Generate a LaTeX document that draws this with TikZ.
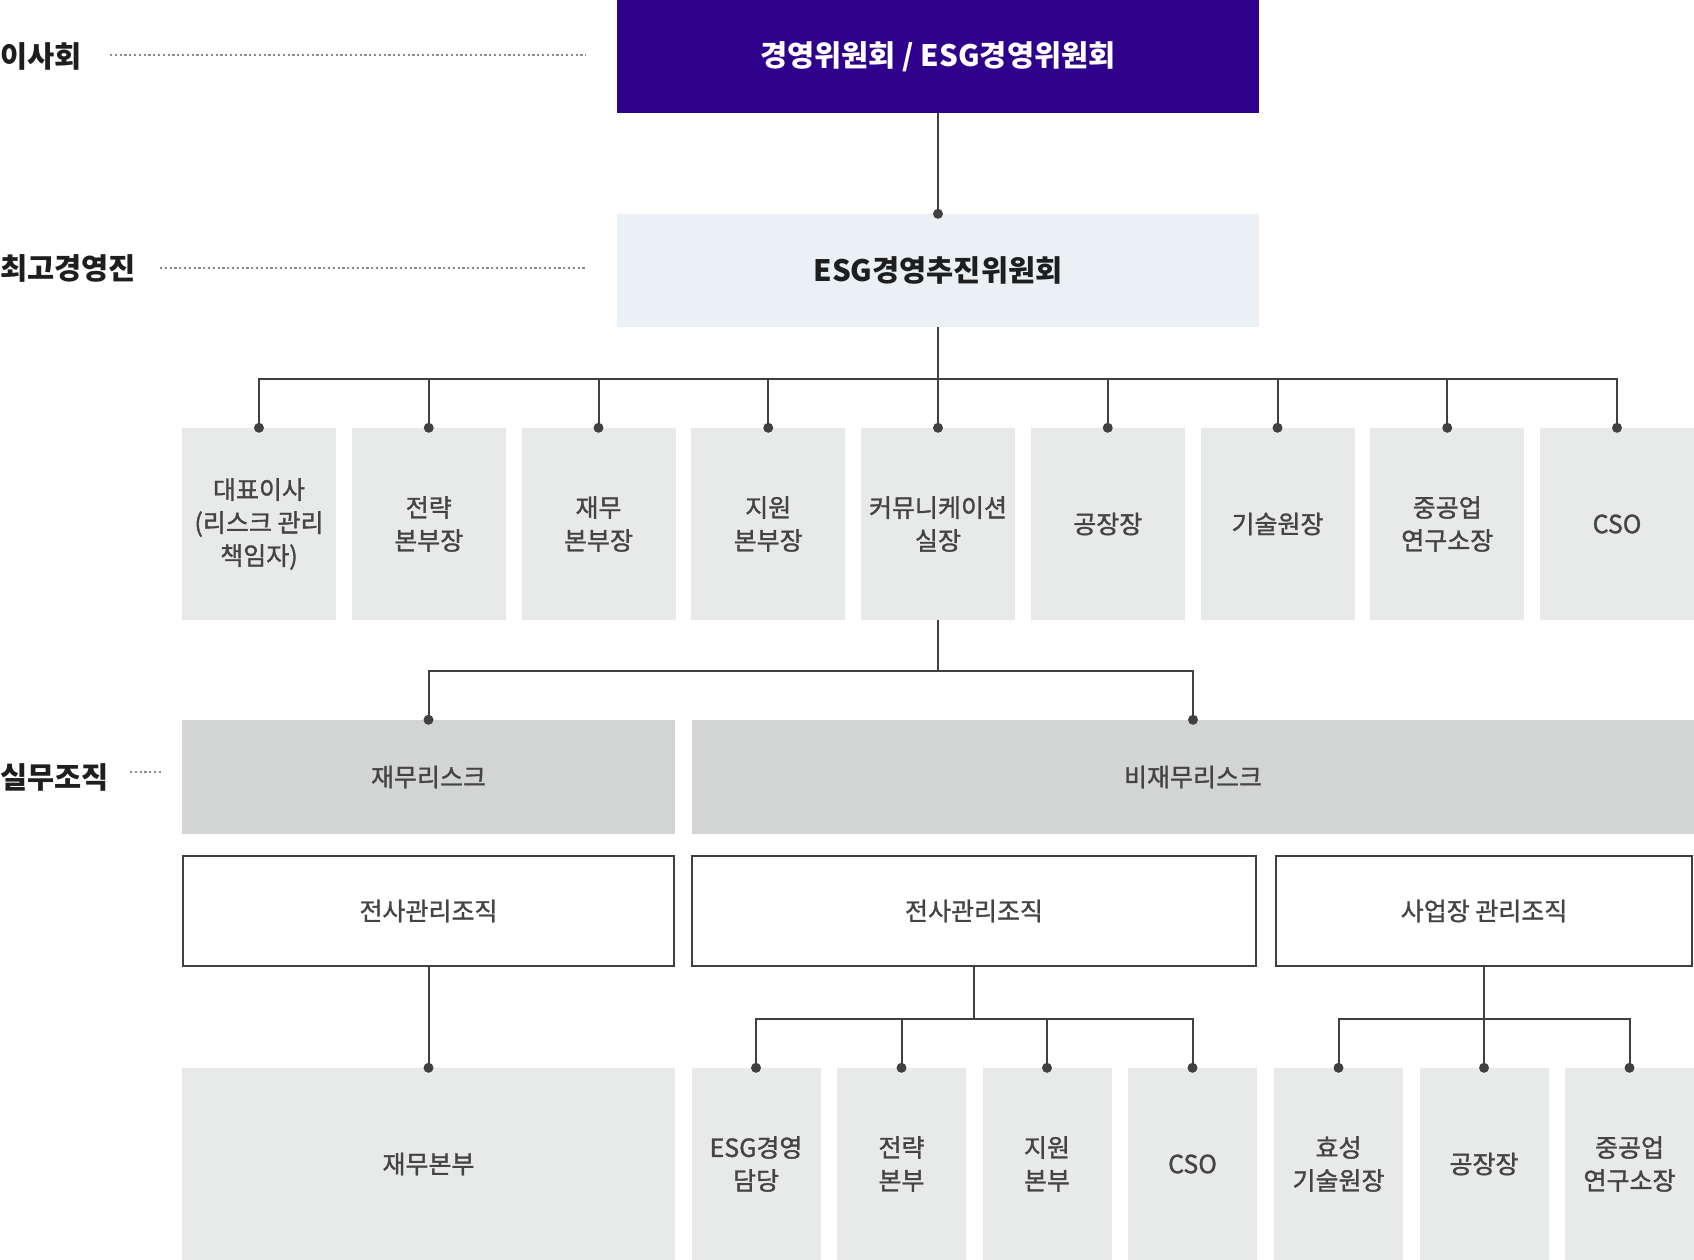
\documentclass[tikz,border=0pt]{standalone}
\usepackage{fontspec}
\setmainfont{Noto Sans CJK KR}
\newfontfamily\medfont[FakeBold=1.3]{Noto Sans CJK KR}
\definecolor{purp}{HTML}{2E008B}
\definecolor{esgbg}{HTML}{EBF0F4}
\definecolor{boxbg}{HTML}{E8E9E9}
\definecolor{riskbg}{HTML}{D3D4D4}
\definecolor{linec}{HTML}{404040}
\definecolor{txtc}{HTML}{444444}
\definecolor{labc}{HTML}{1E1E1E}
\definecolor{dotc}{HTML}{8C8C8C}
\tikzset{
  head/.style={rectangle, inner sep=0pt, minimum width=642pt, minimum height=113pt, font=\fontsize{29.5}{34}\selectfont\bfseries},
  cell/.style={rectangle, fill=boxbg, inner sep=0pt, minimum height=192pt, align=center, text=txtc, font=\medfont\fontsize{25}{33}\selectfont},
  riskbox/.style={rectangle, fill=riskbg, inner sep=0pt, minimum height=114pt, text=txtc, font=\medfont\fontsize{25}{33}\selectfont},
  orgbox/.style={rectangle, draw=linec, line width=2pt, inner sep=0pt, minimum height=110pt, text=txtc, font=\medfont\fontsize{25}{33}\selectfont},
  sidelab/.style={anchor=west, inner sep=0pt, text=labc, font=\fontsize{29.5}{34}\selectfont\bfseries},
  conn/.style={draw=linec, line width=2pt},
  dotline/.style={draw=dotc, line width=1.3pt, dash pattern=on 2.2pt off 2.6pt},
  pin/.style={fill=linec}
}
\begin{document}
\begin{tikzpicture}[x=1pt,y=-1pt]
\useasboundingbox (0,0) rectangle (1694,1260);

% level headings
\node[head, fill=purp, text=white] (board) at (938,56.5) {경영위원회 / ESG경영위원회};
\node[head, fill=esgbg, text=labc] (esg) at (938,270.5) {ESG경영추진위원회};

% side labels
\node[sidelab] (lab1) at (0,56) {이사회};
\node[sidelab] (lab2) at (0,268) {최고경영진};
\node[sidelab] (lab3) at (0,777) {실무조직};
\coordinate (d1s) at (110,55);
\coordinate (d1e) at (586,55);
\coordinate (d2s) at (160,268);
\coordinate (d2e) at (586,268);
\coordinate (d3s) at (130,772);
\coordinate (d3e) at (161,772);
\draw[dotline] (d1s) -- (d1e);
\draw[dotline] (d2s) -- (d2e);
\draw[dotline] (d3s) -- (d3e);

% executives row
\node[cell, minimum width=154pt] (e1) at (259,524) {대표이사\\(리스크 관리\\책임자)};
\node[cell, minimum width=154pt] (e2) at (428.75,524) {전략\\본부장};
\node[cell, minimum width=154pt] (e3) at (598.5,524) {재무\\본부장};
\node[cell, minimum width=154pt] (e4) at (768.25,524) {지원\\본부장};
\node[cell, minimum width=154pt] (e5) at (938,524) {커뮤니케이션\\실장};
\node[cell, minimum width=154pt] (e6) at (1107.75,524) {공장장};
\node[cell, minimum width=154pt] (e7) at (1277.5,524) {기술원장};
\node[cell, minimum width=154pt] (e8) at (1447.25,524) {중공업\\연구소장};
\node[cell, minimum width=154pt] (e9) at (1617,524) {CSO};

% risk row
\node[riskbox, minimum width=493pt] (r1) at (428.5,777) {재무리스크};
\node[riskbox, minimum width=1002pt] (r2) at (1193,777) {비재무리스크};

% organisation row
\node[orgbox, minimum width=491pt] (o1) at (428.5,911) {전사관리조직};
\node[orgbox, minimum width=564pt] (o2) at (974,911) {전사관리조직};
\node[orgbox, minimum width=416pt] (o3) at (1484,911) {사업장 관리조직};

% bottom row
\node[cell, minimum width=493pt] (f1) at (428.5,1164) {재무본부};
\node[cell, minimum width=129pt] (n1) at (756,1164) {ESG경영\\담당};
\node[cell, minimum width=129pt] (n2) at (901.5,1164) {전략\\본부};
\node[cell, minimum width=129pt] (n3) at (1047,1164) {지원\\본부};
\node[cell, minimum width=129pt] (n4) at (1192.5,1164) {CSO};
\node[cell, minimum width=129pt] (s1) at (1338.5,1164) {효성\\기술원장};
\node[cell, minimum width=129pt] (s2) at (1484,1164) {공장장};
\node[cell, minimum width=129pt] (s3) at (1629.5,1164) {중공업\\연구소장};

% connectors
\draw[conn] (board.south) -- (esg.north);
\fill[pin] (esg.north) circle (5pt);

\coordinate (bus1) at (938,379);
\draw[conn] (esg.south) -- (bus1);
\foreach \n in {e1,e2,e3,e4,e5,e6,e7,e8,e9}{
  \draw[conn] (bus1) -| (\n.north);
  \fill[pin] (\n.north) circle (5pt);
}

\coordinate (bus2) at (938,671);
\draw[conn] (e5.south) -- (bus2);
\foreach \n in {r1,r2}{
  \draw[conn] (bus2) -| (\n.north);
  \fill[pin] (\n.north) circle (5pt);
}

\draw[conn] (o1.south) -- (f1.north);
\fill[pin] (f1.north) circle (5pt);

\coordinate (bus3) at (974,1019);
\draw[conn] (o2.south) -- (bus3);
\foreach \n in {n1,n2,n3,n4}{
  \draw[conn] (bus3) -| (\n.north);
  \fill[pin] (\n.north) circle (5pt);
}

\coordinate (bus4) at (1484,1019);
\draw[conn] (o3.south) -- (bus4);
\foreach \n in {s1,s2,s3}{
  \draw[conn] (bus4) -| (\n.north);
  \fill[pin] (\n.north) circle (5pt);
}
\end{tikzpicture}
\end{document}
